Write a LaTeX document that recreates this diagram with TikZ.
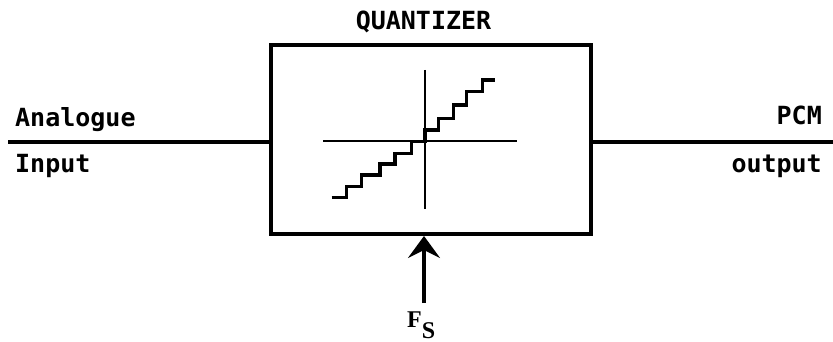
\documentclass[tikz,border=0pt]{standalone}
\usepackage{fontspec}
\setmainfont{Liberation Serif}
\newfontfamily\lblfont{DejaVu Sans Mono}
\usetikzlibrary{arrows.meta}
\begin{document}
\begin{tikzpicture}[x=1pt,y=1pt,
  boxstyle/.style={draw, line width=4pt, minimum width=320pt, minimum height=189pt, inner sep=0pt},
  sig/.style={line width=4pt},
  axis/.style={line width=2pt},
  stair/.style={line width=3.5pt, line join=miter},
  lbl/.style={font=\lblfont\bfseries\fontsize{25}{25}\selectfont, inner sep=0pt},
  fslbl/.style={font=\bfseries\fontsize{24}{24}\selectfont, inner sep=0pt}]
\useasboundingbox (0,0) rectangle (833,-342);
% quantizer box
\node[boxstyle] (q) at (431,-139.5) {};
\node[lbl, anchor=base] (qt) at (423.5,-30) {QUANTIZER};
% input / output lines
\coordinate (inL) at (8,-142);
\coordinate (outR) at (833,-142);
\draw[sig] (inL) -- (q.west |- inL);
\draw[sig] (q.east |- outR) -- (outR);
\node[lbl, anchor=base west] (ana) at (15,-127) {Analogue};
\node[lbl, anchor=base west] (inp) at (15,-172) {Input};
\node[lbl, anchor=base east] (pcm) at (822,-125) {PCM};
\node[lbl, anchor=base east] (outp) at (822,-172) {output};
% axes
\coordinate (vt) at (425,-70);
\coordinate (vb) at (425,-209);
\coordinate (hl) at (323,-141.5);
\coordinate (hr) at (517,-141.5);
\draw[axis] (vt) -- (vb);
\draw[axis] (hl) -- (hr);
% staircase
\draw[stair] (331.7,-197.7) -- (346.7,-197.7) -- (346.7,-186.7) -- (361.7,-186.7)
  -- (361.7,-175) -- (380,-175) -- (380,-164) -- (395,-164) -- (395,-153.3)
  -- (411.7,-153.3) -- (411.7,-141.7) -- (425,-141.7) -- (425,-130)
  -- (438.3,-130) -- (438.3,-118.3) -- (453.3,-118.3) -- (453.3,-105)
  -- (466.7,-105) -- (466.7,-91.7) -- (482.7,-91.7) -- (482.7,-80) -- (495,-80);
% sampling clock arrow
\coordinate (fsbot) at (424,-303);
\draw[line width=4.5pt, -{Stealth[length=22pt,width=32pt,inset=8pt]}] (fsbot) -- (q.south -| fsbot);
\node[fslbl, anchor=base west] (fs) at (407,-327) {F\raisebox{-11pt}{S}};
\end{tikzpicture}
\end{document}
